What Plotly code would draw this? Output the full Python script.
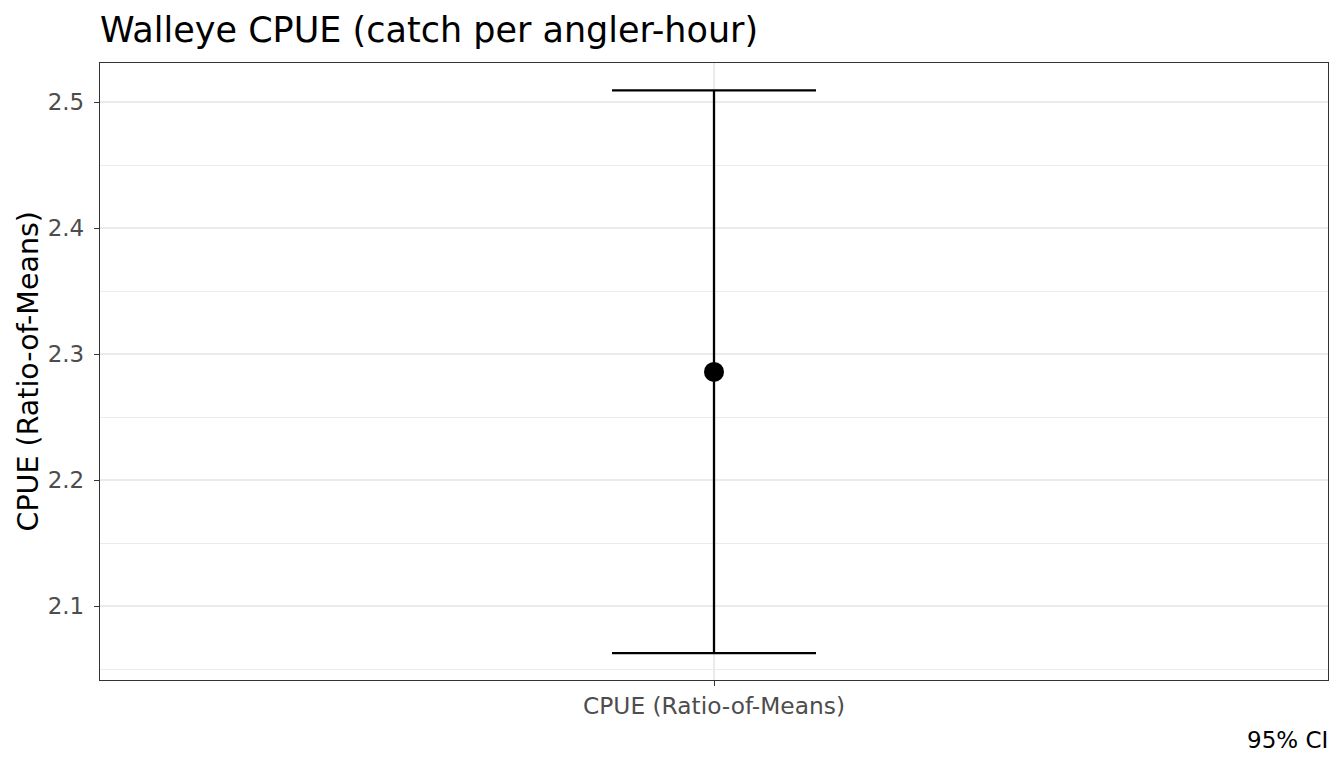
import plotly.graph_objects as go

categories = ["CPUE (Ratio-of-Means)"]
estimate = [2.2859]
ci_lower = [2.0627]
ci_upper = [2.5095]

title_text = "Walleye CPUE (catch per angler-hour)"
y_title = "CPUE (Ratio-of-Means)"
caption = "95% CI"
y_ticks = [2.1, 2.2, 2.3, 2.4, 2.5]
y_minor = [2.05, 2.15, 2.25, 2.35, 2.45]

FONT = "DejaVu Sans"
W, H = 1328, 752
L, R, T, B = 92, 8, 55, 80
PW, PH = W - L - R, H - T - B

fig = go.Figure()
fig.add_trace(go.Scatter(
    x=categories,
    y=estimate,
    mode="markers",
    marker=dict(color="black", size=20),
    error_y=dict(
        type="data",
        symmetric=False,
        array=[u - e for u, e in zip(ci_upper, estimate)],
        arrayminus=[e - l for e, l in zip(estimate, ci_lower)],
        color="black",
        thickness=2.3,
        width=102,
    ),
    showlegend=False,
))

fig.update_layout(
    width=W,
    height=H,
    margin=dict(l=L, r=R, t=T, b=B),
    paper_bgcolor="white",
    plot_bgcolor="white",
    font=dict(family=FONT, color="#4D4D4D"),
    title=dict(
        text=title_text,
        font=dict(family=FONT, size=35, color="black"),
        x=L / W,
        xref="container",
        xanchor="left",
        y=1 - 22 / H,
        yref="container",
        yanchor="middle",
    ),
    xaxis=dict(
        type="category",
        range=[-0.6, 0.6],
        showgrid=True,
        gridcolor="#EBEBEB",
        gridwidth=1.6,
        ticks="outside",
        ticklen=5,
        tickwidth=1.3,
        tickcolor="#333333",
        tickfont=dict(family=FONT, size=23.3, color="#4D4D4D"),
        showline=True,
        linecolor="#333333",
        linewidth=1.3,
        mirror=True,
        zeroline=False,
    ),
    yaxis=dict(
        range=[2.0413, 2.5312],
        tickvals=y_ticks,
        ticktext=[f"{v:.1f}" for v in y_ticks],
        showgrid=True,
        gridcolor="#EBEBEB",
        gridwidth=1.6,
        minor=dict(tickvals=y_minor, showgrid=True,
                   gridcolor="#EBEBEB", gridwidth=0.8, ticks=""),
        ticks="outside",
        ticklen=5,
        tickwidth=1.3,
        tickcolor="#333333",
        tickfont=dict(family=FONT, size=23, color="#4D4D4D"),
        ticklabelstandoff=5,
        showline=True,
        linecolor="#333333",
        linewidth=1.3,
        mirror=True,
        zeroline=False,
    ),
    annotations=[
        dict(
            text=y_title,
            xref="paper", yref="paper",
            x=-72 / PW, y=0.5,
            xanchor="center", yanchor="middle",
            textangle=-90,
            showarrow=False,
            font=dict(family=FONT, size=28.5, color="black"),
        ),
        dict(
            text=caption,
            xref="paper", yref="paper",
            x=1, y=-(740 - 680) / PH,
            xanchor="right", yanchor="middle",
            xshift=2,
            showarrow=False,
            font=dict(family=FONT, size=23, color="black"),
        ),
    ],
)

fig.write_html("out.html")
